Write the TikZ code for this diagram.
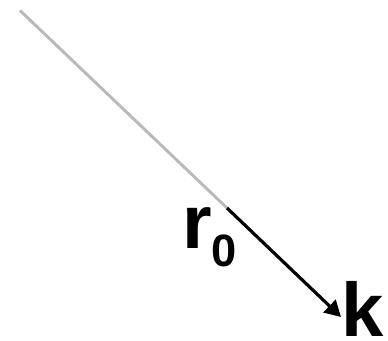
\documentclass[tikz,border=0pt]{standalone}
\usepackage{fontspec}
\setmainfont{Liberation Sans}
\usetikzlibrary{arrows.meta}
\begin{document}
\begin{tikzpicture}[x=0.75pt,y=-0.75pt,
  lbl/.style={inner sep=0pt,anchor=base west,font=\fontsize{57}{57}\selectfont\bfseries}]
\useasboundingbox (0,0) rectangle (388,340);
\coordinate (s) at (20,10.5);
\coordinate (m) at (227,208);
\coordinate (e) at (341,317);
\draw[line width=2.2pt,gray!55] (s) -- (m);
\draw[line width=2.4pt,-{Triangle[length=12pt,width=13pt]}] (m) -- (e);
\node[lbl] (r) at (182,248) {r\raisebox{-14pt}{\fontsize{34}{34}\selectfont 0}};
\node[lbl] (k) at (341,336) {k};
\end{tikzpicture}
\end{document}
